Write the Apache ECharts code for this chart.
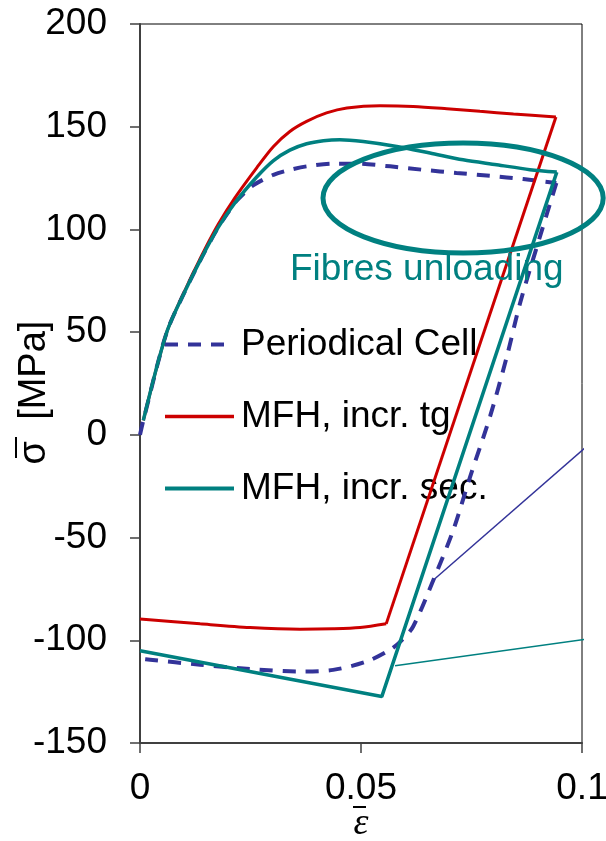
<!DOCTYPE html>
<html>
<head>
<meta charset="utf-8">
<script src="https://cdn.jsdelivr.net/npm/echarts@6/dist/echarts.min.js"></script>
<style>
  html, body { margin: 0; padding: 0; background: #fff; }
  #chart { width: 606px; height: 841px; }
</style>
</head>
<body>
<div id="chart"></div>
<script>
// [strain, stress in MPa], split where the load path turns sharply
const cellLoading = [
  [0, 0], [0.00075, 7], [0.006, 49.6], [0.0102, 70], [0.014, 86.5], [0.0177, 101],
  [0.0215, 113], [0.0235, 117.5], [0.0256, 121.5], [0.0302, 126.6], [0.0339, 129],
  [0.0377, 130.7], [0.0437, 132], [0.049, 132], [0.0566, 130.7], [0.0641, 129],
  [0.0716, 127.5], [0.0792, 126.1], [0.0867, 124.5], [0.0942, 122.6]
];
const cellUnloading = [
  [0.0942, 122.6], [0.0905, 96.6], [0.086, 64.2], [0.083, 38.2], [0.0792, 9],
  [0.0747, -20.3], [0.0709, -46.2], [0.0664, -70.5], [0.0618, -93.3], [0.0592, -100],
  [0.0566, -104.6], [0.0513, -110.3], [0.0437, -114.4], [0.0362, -115.2],
  [0.0249, -114], [0.0136, -111.9], [0.0023, -109.5], [0, -109]
];
const tangentLoading = [
  [0.00075, 7], [0.006, 49.6], [0.0102, 70.5], [0.014, 87.5], [0.0177, 102.5],
  [0.0215, 115.5], [0.0264, 130], [0.0302, 140.4], [0.0339, 147.7], [0.0377, 152.6],
  [0.0422, 156.7], [0.0468, 159.1], [0.0543, 160.2], [0.0618, 159.9], [0.0694, 158.8],
  [0.0769, 157.5], [0.0845, 156.2], [0.0941, 154.7]
];
const tangentUnloading = [[0.0941, 154.7], [0.0557, -92]];
const tangentReverse = [
  [0.0557, -92], [0.0498, -93.8], [0.0437, -94.4], [0.0362, -94.6], [0.0249, -93.8],
  [0.0136, -92], [0, -89.6]
];
const secantLoading = [
  [0.00075, 7], [0.006, 49.6], [0.0102, 70], [0.014, 86.5], [0.0177, 101],
  [0.0215, 113], [0.0264, 125.5], [0.0302, 133.5], [0.0339, 138.6], [0.0377, 141.7],
  [0.0415, 143.2], [0.0452, 143.7], [0.0505, 142.8], [0.0581, 140.4], [0.0656, 137.2],
  [0.0731, 133.9], [0.0807, 131.5], [0.0882, 129.1], [0.0943, 127.9]
];
const secantUnloading = [[0.0943, 127.9], [0.0547, -127.4], [0, -105.1]];
// thin pointer lines running off to the right
const cellPointer = [[0.066, -71.4], [0.1054, 2.5]];
const secantPointer = [[0.0577, -112.4], [0.1054, -98.1]];
// "Fibres unloading" ellipse: centre, half width (strain), half height (MPa)
const ellipseCentre = [0.0731, 115.3];
const ellipseRadius = [0.0317, 26.8];
const noteText = 'Fibres unloading';
const seriesNames = ['Periodical Cell', 'MFH, incr. tg', 'MFH, incr. sec.'];

const xMin = 0, xMax = 0.1, xStep = 0.05;
const yMin = -150, yMax = 200, yStep = 50;

const BLUE = '#333399';
const RED = '#CC0000';
const TEAL = '#008080';
const AXIS = '#404040';
const SANS = 'Liberation Sans, Arial, sans-serif';

const chart = echarts.init(document.getElementById('chart'));

function curve (name, data, lineStyle, smooth, z) {
  return {
    name: name,
    type: 'line',
    data: data,
    symbol: 'none',
    showSymbol: false,
    smooth: smooth,
    lineStyle: lineStyle,
    itemStyle: { color: lineStyle.color },
    z: z
  };
}

function pointer (data, color) {
  return {
    type: 'line',
    data: data,
    symbol: 'none',
    silent: true,
    clip: false,
    lineStyle: { color: color, width: 1.5 },
    z: 3
  };
}

const blueStyle = { color: BLUE, width: 4, type: [13, 10] };
const redStyle = { color: RED, width: 3 };
const tealStyle = { color: TEAL, width: 3.5 };

chart.setOption({
  animation: false,
  backgroundColor: '#fff',
  grid: {
    left: 140, right: 24, top: 24, bottom: 98,
    show: true, borderColor: '#000', borderWidth: 1,
    outerBoundsMode: 'none'
  },
  legend: {
    data: [
      { name: seriesNames[0], lineStyle: { width: 4 } },
      { name: seriesNames[1], lineStyle: { width: 3.5 } },
      { name: seriesNames[2], lineStyle: { width: 4 } }
    ],
    orient: 'vertical',
    left: 163,
    top: 326,
    itemWidth: 69,
    itemHeight: 14,
    itemGap: 35,
    padding: 0,
    selectedMode: false,
    itemStyle: { opacity: 0 },
    textStyle: { fontSize: 37, fontFamily: SANS, color: '#000', padding: [0, 0, 0, 2] }
  },
  xAxis: {
    type: 'value',
    min: xMin, max: xMax, interval: xStep,
    splitLine: { show: false },
    axisLine: { onZero: false, lineStyle: { color: AXIS, width: 2 } },
    axisTick: { length: 10, lineStyle: { color: AXIS, width: 1.5 } },
    axisLabel: { fontSize: 37, fontFamily: SANS, color: '#000', margin: 27, formatter: v => String(v) },
    name: 'ε',
    nameLocation: 'middle',
    nameGap: 62,
    nameMoveOverlap: false,
    nameTextStyle: { fontFamily: 'Liberation Serif, serif', fontStyle: 'italic', fontSize: 38, color: '#000' }
  },
  yAxis: {
    type: 'value',
    min: yMin, max: yMax, interval: yStep,
    splitLine: { show: false },
    axisLine: { onZero: false, lineStyle: { color: AXIS, width: 2 } },
    axisTick: { length: 10, lineStyle: { color: AXIS, width: 1.5 } },
    axisLabel: { fontSize: 37, fontFamily: SANS, color: '#000', margin: 33 },
    name: 'σ  [MPa]',
    nameLocation: 'middle',
    nameRotate: 90,
    nameGap: 86,
    nameMoveOverlap: false,
    nameTextStyle: { fontFamily: SANS, fontSize: 38, color: '#000', padding: [0, 18, 0, 0] }
  },
  series: [
    curve(seriesNames[0], cellLoading, blueStyle, 0.3, 4),
    curve(seriesNames[0], cellUnloading, blueStyle, 0.3, 4),
    curve(seriesNames[1], tangentLoading, redStyle, 0.3, 5),
    curve(seriesNames[1], tangentUnloading, redStyle, false, 5),
    curve(seriesNames[1], tangentReverse, redStyle, 0.3, 5),
    curve(seriesNames[2], secantLoading, tealStyle, 0.3, 6),
    curve(seriesNames[2], secantUnloading, tealStyle, false, 6),
    pointer(cellPointer, BLUE),
    pointer(secantPointer, TEAL)
  ]
});

// annotations placed through the axes
const c = chart.convertToPixel({ gridIndex: 0 }, ellipseCentre);
const r = chart.convertToPixel({ gridIndex: 0 }, [ellipseCentre[0] + ellipseRadius[0], ellipseCentre[1] + ellipseRadius[1]]);

chart.setOption({
  graphic: [
    {
      type: 'ellipse', z: 100,
      shape: { cx: c[0], cy: c[1], rx: r[0] - c[0], ry: c[1] - r[1] },
      style: { fill: null, stroke: TEAL, lineWidth: 5 }
    },
    {
      type: 'text', z: 100, x: 290, y: 270,
      style: { text: noteText, fill: TEAL, font: '37px ' + SANS, verticalAlign: 'middle' }
    },
    // bars over epsilon and sigma
    { type: 'line', z: 100, shape: { x1: 353, y1: 807, x2: 366, y2: 807 }, style: { stroke: '#000', lineWidth: 2 } },
    { type: 'line', z: 100, shape: { x1: 16, y1: 437, x2: 16, y2: 458 }, style: { stroke: '#000', lineWidth: 2 } }
  ]
});
</script>
</body>
</html>
